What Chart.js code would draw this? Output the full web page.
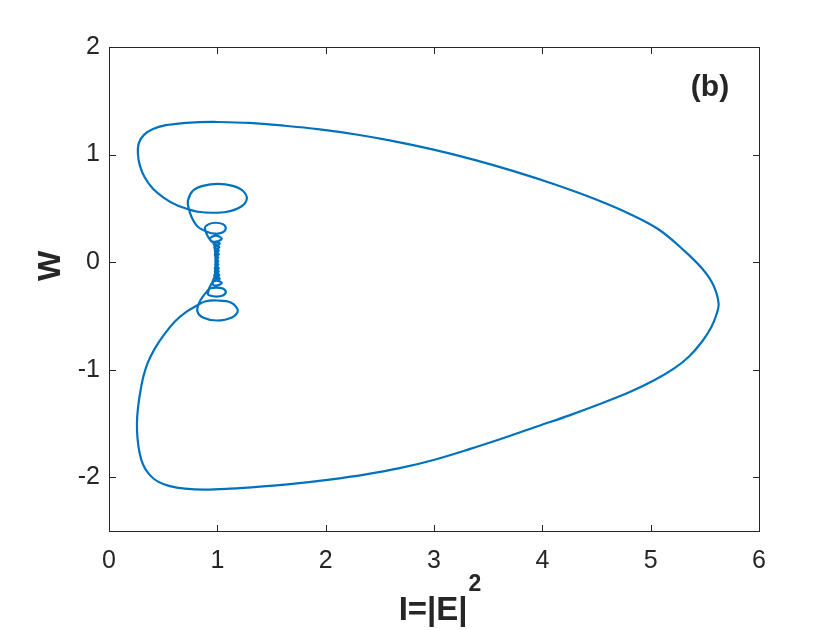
<!DOCTYPE html>
<html>
<head>
<meta charset="utf-8">
<script src="https://cdn.jsdelivr.net/npm/chart.js@4.4.1/dist/chart.umd.min.js"></script>
<style>
html,body{margin:0;padding:0;background:#fff;}
canvas{display:block;}
</style>
</head>
<body>
<canvas id="c" width="840" height="630"></canvas>
<script>
// ---- Data (trajectory in the (I, W) plane) ----
const iValues = [
  0.811,0.885,0.995,1.124,1.189,1.134,0.995,0.866,0.816,0.829,0.866,0.903,
  0.931,0.991,1.051,1.078,1.051,0.991,0.931,0.912,
  0.949,0.995,1.041,0.995,0.959,
  0.967,0.995,1.023,0.995,
  0.972,0.995,1.018,0.995,
  0.977,0.995,1.013,0.995,
  0.977,0.995,1.013,0.995,
  0.981,0.995,1.009,0.995,
  0.981,0.995,1.009,0.995,
  0.981,0.995,1.009,0.995,
  0.977,0.995,1.013,0.995,
  0.977,0.995,1.013,0.995,
  0.972,0.995,1.018,0.995,
  0.967,0.995,1.023,0.995,
  0.931,0.986,1.041,0.986,0.940,
  0.885,0.922,0.982,1.051,1.078,1.051,0.982,0.903,0.820,0.765,0.737,0.728,
  0.774,0.866,1.005,1.143,1.235,1.272,1.217,1.088,0.949,0.820,
  0.747,0.618,0.507,0.406,0.332,0.286,0.267,0.276,0.323,0.406,0.525,0.682,0.839,0.977,
  1.300,1.622,1.945,2.267,2.590,2.986,3.373,3.742,4.111,4.479,4.802,5.078,5.309,5.475,5.576,5.627,
  5.604,5.558,5.475,5.355,5.217,5.032,4.802,4.525,4.249,3.972,3.650,3.327,3.005,2.682,2.359,2.037,1.714,1.392,1.115,0.885,
  0.700,0.562,0.452,0.369,0.313,0.281,0.263,0.258,0.267,0.290,0.318,0.359,0.424,0.507,0.608,0.710,0.811
];
const wValues = [
  -0.403,-0.366,-0.357,-0.375,-0.450,-0.515,-0.543,-0.515,-0.459,-0.385,-0.320,-0.274,
  -0.246,-0.237,-0.246,-0.278,-0.311,-0.320,-0.311,-0.292,
  -0.195,-0.172,-0.195,-0.218,-0.209,
  -0.153,-0.141,-0.153,-0.165,
  -0.121,-0.109,-0.121,-0.133,
  -0.088,-0.076,-0.088,-0.100,
  -0.056,-0.044,-0.056,-0.068,
  -0.023,-0.011,-0.023,-0.035,
  0.009,0.021,0.009,-0.003,
  0.042,0.054,0.042,0.030,
  0.074,0.086,0.074,0.062,
  0.107,0.119,0.107,0.095,
  0.139,0.151,0.139,0.127,
  0.172,0.184,0.172,0.160,
  0.218,0.246,0.218,0.190,0.199,
  0.315,0.353,0.366,0.353,0.315,0.278,0.264,0.283,0.329,0.413,0.496,0.571,
  0.663,0.709,0.728,0.709,0.663,0.589,0.515,0.468,0.459,0.468,
  0.487,0.533,0.598,0.682,0.784,0.895,1.006,1.109,1.183,1.238,1.273,1.292,1.301,1.303,
  1.294,1.268,1.234,1.189,1.132,1.048,0.951,0.844,0.724,0.589,0.450,0.301,0.107,-0.060,-0.209,-0.385,
  -0.496,-0.608,-0.738,-0.877,-0.988,-1.099,-1.211,-1.322,-1.425,-1.521,-1.633,-1.739,-1.837,-1.916,-1.976,-2.022,-2.059,-2.087,-2.106,-2.115,
  -2.106,-2.083,-2.041,-1.971,-1.879,-1.767,-1.637,-1.498,-1.360,-1.201,-1.062,-0.932,-0.802,-0.677,-0.552,-0.464,-0.404
];
const xTicks = [0,1,2,3,4,5,6];
const yTicks = [-2,-1,0,1,2];
const xLabel = 'I=|E|';
const xLabelSup = '2';
const yLabel = 'W';
const panelTag = '(b)';

const FONT = '"Liberation Sans", Arial, Helvetica, sans-serif';
const TXT = '#262626';

const points = iValues.map((v, k) => ({x: v, y: wValues[k]}));

const boxPlugin = {
  id: 'matlabBox',
  afterDraw(chart) {
    const {ctx, chartArea: a, scales: {x, y}} = chart;
    ctx.save();
    ctx.strokeStyle = TXT;
    ctx.lineWidth = 1;
    const L = Math.round(a.left) + 0.5, R = Math.round(a.right) + 0.5;
    const T = Math.round(a.top) + 0.5, B = Math.round(a.bottom) + 0.5;
    ctx.strokeRect(L, T, R - L, B - T);
    const tl = 6.5;
    ctx.beginPath();
    xTicks.forEach(v => {
      const p = Math.round(x.getPixelForValue(v)) + 0.5;
      ctx.moveTo(p, B); ctx.lineTo(p, B - tl);
      ctx.moveTo(p, T); ctx.lineTo(p, T + tl);
    });
    yTicks.forEach(v => {
      const p = Math.round(y.getPixelForValue(v)) + 0.5;
      ctx.moveTo(L, p); ctx.lineTo(L + tl, p);
      ctx.moveTo(R, p); ctx.lineTo(R - tl, p);
    });
    ctx.stroke();

    ctx.fillStyle = TXT;
    // x-axis title with superscript
    ctx.textBaseline = 'alphabetic';
    ctx.textAlign = 'left';
    ctx.font = 'bold 33px ' + FONT;
    const w1 = ctx.measureText(xLabel).width;
    ctx.font = 'bold 23px ' + FONT;
    const w2 = ctx.measureText(xLabelSup).width;
    const sx = 440 - (w1 + w2 + 1) / 2;
    ctx.font = 'bold 33px ' + FONT;
    ctx.fillText(xLabel, sx, 620);
    ctx.font = 'bold 23px ' + FONT;
    ctx.fillText(xLabelSup, sx + w1 + 1, 591);

    // y-axis title
    ctx.save();
    ctx.translate(60, 266);
    ctx.rotate(-Math.PI / 2);
    ctx.textAlign = 'center';
    ctx.font = 'bold 32px ' + FONT;
    ctx.fillText(yLabel, 0, 0);
    ctx.restore();

    // panel tag
    ctx.textAlign = 'center';
    ctx.font = 'bold 30px ' + FONT;
    ctx.fillText(panelTag, 710, 96);
    ctx.restore();
  }
};

new Chart(document.getElementById('c'), {
  type: 'scatter',
  data: {
    datasets: [{
      data: points,
      showLine: true,
      borderColor: '#0072BD',
      backgroundColor: '#0072BD',
      borderWidth: 2.2,
      pointRadius: 0,
      tension: 0.35,
      fill: false
    }]
  },
  options: {
    responsive: false,
    animation: false,
    layout: {padding: {top: 47, right: 81, left: 0, bottom: 0}},
    plugins: {legend: {display: false}, tooltip: {enabled: false}},
    scales: {
      x: {
        type: 'linear', min: 0, max: 6,
        grid: {display: false, drawTicks: false},
        border: {display: false},
        ticks: {font: {size: 25, family: FONT}, color: TXT, padding: 15, maxRotation: 0, autoSkip: false},
        afterBuildTicks: s => { s.ticks = xTicks.map(v => ({value: v})); },
        afterFit: s => { s.height = 99; }
      },
      y: {
        type: 'linear', min: -2.5, max: 2,
        grid: {display: false, drawTicks: false},
        border: {display: false},
        ticks: {font: {size: 25, family: FONT}, color: TXT, padding: 9, autoSkip: false},
        afterBuildTicks: s => { s.ticks = yTicks.map(v => ({value: v})); },
        afterFit: s => { s.width = 109; }
      }
    }
  },
  plugins: [boxPlugin]
});
</script>
</body>
</html>
